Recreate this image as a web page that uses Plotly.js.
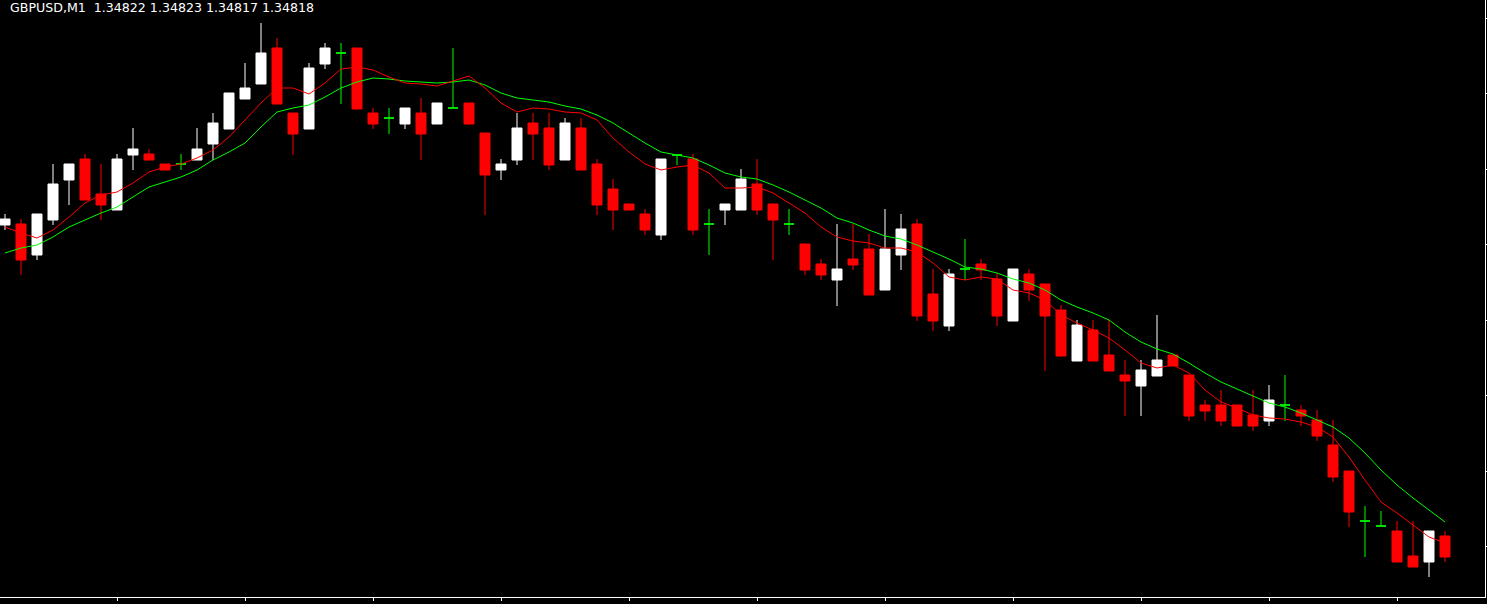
<!DOCTYPE html>
<html>
<head>
<meta charset="utf-8">
<script src="https://cdn.plot.ly/plotly-3.0.1.min.js"></script>
<style>
html,body{margin:0;padding:0;background:#000;}
#chart{width:1487px;height:604px;}
</style>
</head>
<body>
<div id="chart"></div>
<script>
// GBPUSD M1 bars (oldest -> newest)
const openP = [1.35150,1.35151,1.35120,1.35155,1.35195,1.35216,1.35181,1.35165,1.35220,1.35221,
1.35211,1.35211,1.35215,1.35231,1.35246,1.35276,1.35291,1.35327,1.35262,1.35246,
1.35311,1.35322,1.35327,1.35262,1.35257,1.35251,1.35262,1.35251,1.35267,1.35272,
1.35242,1.35205,1.35215,1.35252,1.35247,1.35215,1.35247,1.35211,1.35186,1.35171,
1.35161,1.35140,1.35220,1.35216,1.35151,1.35165,1.35165,1.35191,1.35171,1.35151,
1.35131,1.35111,1.35095,1.35116,1.35126,1.35085,1.35120,1.35151,1.35081,1.35049,
1.35106,1.35111,1.35096,1.35054,1.35101,1.35091,1.35065,1.35014,1.35045,1.35020,
1.35000,1.34989,1.34999,1.35020,1.35000,1.34970,1.34970,1.34970,1.34960,1.34954,
1.34970,1.34965,1.34955,1.34930,1.34904,1.34854,1.34849,1.34844,1.34819,1.34813,
1.34839];
const highP = [1.35161,1.35156,1.35161,1.35211,1.35211,1.35221,1.35211,1.35221,1.35247,1.35226,
1.35211,1.35221,1.35247,1.35262,1.35282,1.35312,1.35352,1.35337,1.35262,1.35312,
1.35332,1.35332,1.35327,1.35267,1.35267,1.35267,1.35277,1.35272,1.35327,1.35272,
1.35242,1.35216,1.35262,1.35262,1.35262,1.35257,1.35257,1.35216,1.35196,1.35171,
1.35166,1.35216,1.35220,1.35221,1.35166,1.35171,1.35206,1.35216,1.35171,1.35166,
1.35131,1.35116,1.35151,1.35151,1.35141,1.35166,1.35161,1.35156,1.35106,1.35106,
1.35136,1.35116,1.35101,1.35106,1.35106,1.35091,1.35070,1.35055,1.35055,1.35055,
1.35015,1.35015,1.35060,1.35020,1.35000,1.34975,1.34985,1.34970,1.34985,1.34990,
1.35000,1.34970,1.34965,1.34955,1.34904,1.34869,1.34864,1.34854,1.34854,1.34844,
1.34844];
const lowP = [1.35145,1.35100,1.35115,1.35150,1.35170,1.35175,1.35155,1.35165,1.35205,1.35215,
1.35205,1.35205,1.35215,1.35215,1.35246,1.35276,1.35291,1.35271,1.35220,1.35246,
1.35306,1.35271,1.35266,1.35246,1.35241,1.35246,1.35215,1.35251,1.35267,1.35251,
1.35160,1.35195,1.35210,1.35215,1.35205,1.35215,1.35205,1.35160,1.35145,1.35165,
1.35140,1.35135,1.35210,1.35140,1.35120,1.35150,1.35165,1.35160,1.35115,1.35140,
1.35100,1.35095,1.35069,1.35105,1.35080,1.35085,1.35105,1.35054,1.35044,1.35044,
1.35095,1.35095,1.35049,1.35054,1.35074,1.35004,1.35019,1.35014,1.35014,1.35004,
1.34959,1.34959,1.34999,1.35009,1.34954,1.34954,1.34949,1.34949,1.34944,1.34949,
1.34954,1.34949,1.34934,1.34893,1.34848,1.34818,1.34849,1.34813,1.34808,1.34798,
1.34813];
const closeP = [1.35156,1.35115,1.35161,1.35191,1.35211,1.35175,1.35170,1.35216,1.35226,1.35215,
1.35205,1.35211,1.35226,1.35252,1.35282,1.35287,1.35322,1.35271,1.35241,1.35307,
1.35327,1.35322,1.35266,1.35251,1.35257,1.35267,1.35241,1.35272,1.35267,1.35251,
1.35200,1.35211,1.35247,1.35241,1.35210,1.35252,1.35205,1.35170,1.35165,1.35165,
1.35145,1.35216,1.35220,1.35145,1.35151,1.35171,1.35196,1.35165,1.35155,1.35151,
1.35105,1.35100,1.35106,1.35110,1.35080,1.35126,1.35146,1.35059,1.35054,1.35101,
1.35106,1.35105,1.35059,1.35106,1.35085,1.35059,1.35019,1.35050,1.35014,1.35004,
1.34994,1.35005,1.35015,1.35009,1.34959,1.34964,1.34954,1.34949,1.34949,1.34975,
1.34970,1.34959,1.34939,1.34898,1.34863,1.34854,1.34849,1.34813,1.34808,1.34844,
1.34818];
// fast moving average (red) and slow moving average (green), read per bar
const maFast = [1.35148,1.35142,1.35137,1.35145,1.35158,1.35172,1.35180,1.35183,1.35192,1.35203,
1.35208,1.35211,1.35217,1.35225,1.35238,1.35255,1.35272,1.35287,1.35287,1.35281,
1.35292,1.35306,1.35308,1.35305,1.35298,1.35292,1.35291,1.35289,1.35294,1.35299,
1.35287,1.35272,1.35263,1.35267,1.35266,1.35263,1.35262,1.35255,1.35237,1.35223,
1.35211,1.35205,1.35208,1.35210,1.35202,1.35187,1.35187,1.35188,1.35182,1.35172,
1.35162,1.35148,1.35138,1.35134,1.35132,1.35127,1.35127,1.35123,1.35112,1.35098,
1.35095,1.35098,1.35096,1.35085,1.35082,1.35075,1.35060,1.35052,1.35045,1.35037,
1.35025,1.35012,1.35007,1.35010,1.35002,1.34985,1.34973,1.34967,1.34960,1.34957,
1.34956,1.34953,1.34948,1.34938,1.34918,1.34895,1.34873,1.34862,1.34850,1.34838,
1.34832];
const maSlow = [1.35122,1.35127,1.35130,1.35138,1.35148,1.35155,1.35162,1.35168,1.35178,1.35188,
1.35193,1.35198,1.35205,1.35215,1.35223,1.35232,1.35248,1.35263,1.35267,1.35270,
1.35278,1.35287,1.35293,1.35297,1.35296,1.35294,1.35293,1.35292,1.35293,1.35295,
1.35290,1.35282,1.35277,1.35275,1.35273,1.35269,1.35266,1.35260,1.35252,1.35242,
1.35232,1.35223,1.35220,1.35217,1.35210,1.35202,1.35198,1.35196,1.35190,1.35183,
1.35175,1.35167,1.35157,1.35152,1.35145,1.35139,1.35136,1.35130,1.35123,1.35116,
1.35108,1.35106,1.35102,1.35096,1.35092,1.35085,1.35075,1.35068,1.35062,1.35055,
1.35043,1.35033,1.35026,1.35021,1.35012,1.35002,1.34993,1.34986,1.34979,1.34972,
1.34968,1.34962,1.34955,1.34948,1.34937,1.34922,1.34905,1.34890,1.34877,1.34865,
1.34853];
const headerText = 'GBPUSD,M1\u00a0 1.34822 1.34823 1.34817 1.34818';

const bars = openP.map((_, i) => i + 1);

function subset(pred) {
  const r = {x: [], open: [], high: [], low: [], close: []};
  bars.forEach((b, i) => {
    if (pred(openP[i], closeP[i])) {
      r.x.push(b); r.open.push(openP[i]); r.high.push(highP[i]);
      r.low.push(lowP[i]); r.close.push(closeP[i]);
    }
  });
  return r;
}
function candle(d, color) {
  return Object.assign({
    type: 'candlestick', whiskerwidth: 0, hoverinfo: 'skip', showlegend: false,
    increasing: {line: {color: color, width: 1}, fillcolor: color},
    decreasing: {line: {color: color, width: 1}, fillcolor: color}
  }, d);
}
const upBars = subset((o, c) => c > o);
const downBars = subset((o, c) => c < o);
const dojiBars = subset((o, c) => c === o);

const traces = [
  candle(upBars, '#ffffff'),
  candle(downBars, '#ff0000'),
  candle(dojiBars, '#00ff00'),
  {type: 'scatter', mode: 'lines', x: bars, y: maSlow, line: {color: '#00ff00', width: 1}, hoverinfo: 'skip', showlegend: false},
  {type: 'scatter', mode: 'lines', x: bars, y: maFast, line: {color: '#ff0000', width: 1}, hoverinfo: 'skip', showlegend: false}
];

const layout = {
  width: 1487, height: 604,
  margin: {l: 0, r: 2, t: 0, b: 7, pad: 0},
  paper_bgcolor: '#000000', plot_bgcolor: '#000000',
  showlegend: false,
  boxgap: 0.375, boxgroupgap: 0,
  xaxis: {
    range: [0.6875, 93.5], showline: true, linecolor: '#ffffff', linewidth: 1,
    ticks: 'outside', ticklen: 3, tickcolor: '#ffffff', tickwidth: 1,
    tick0: 0, dtick: 8, showticklabels: false, showgrid: false, zeroline: false,
    rangeslider: {visible: false}, fixedrange: true
  },
  yaxis: {
    side: 'right', range: [1.34778, 1.35375], showline: true, linecolor: '#ffffff', linewidth: 1,
    ticks: 'outside', ticklen: 2, tickcolor: '#ffffff', tickwidth: 1,
    tick0: 1.35357, dtick: 0.000755, showticklabels: false, showgrid: false, zeroline: false,
    fixedrange: true
  },
  annotations: [{
    text: headerText, xref: 'paper', yref: 'paper', x: 0, y: 1,
    xanchor: 'left', yanchor: 'top', xshift: 8, yshift: 2, showarrow: false,
    font: {family: 'DejaVu Sans', size: 12.6, color: '#ffffff'}
  }]
};

Plotly.newPlot('chart', traces, layout, {staticPlot: true, displayModeBar: false});
</script>
</body>
</html>
